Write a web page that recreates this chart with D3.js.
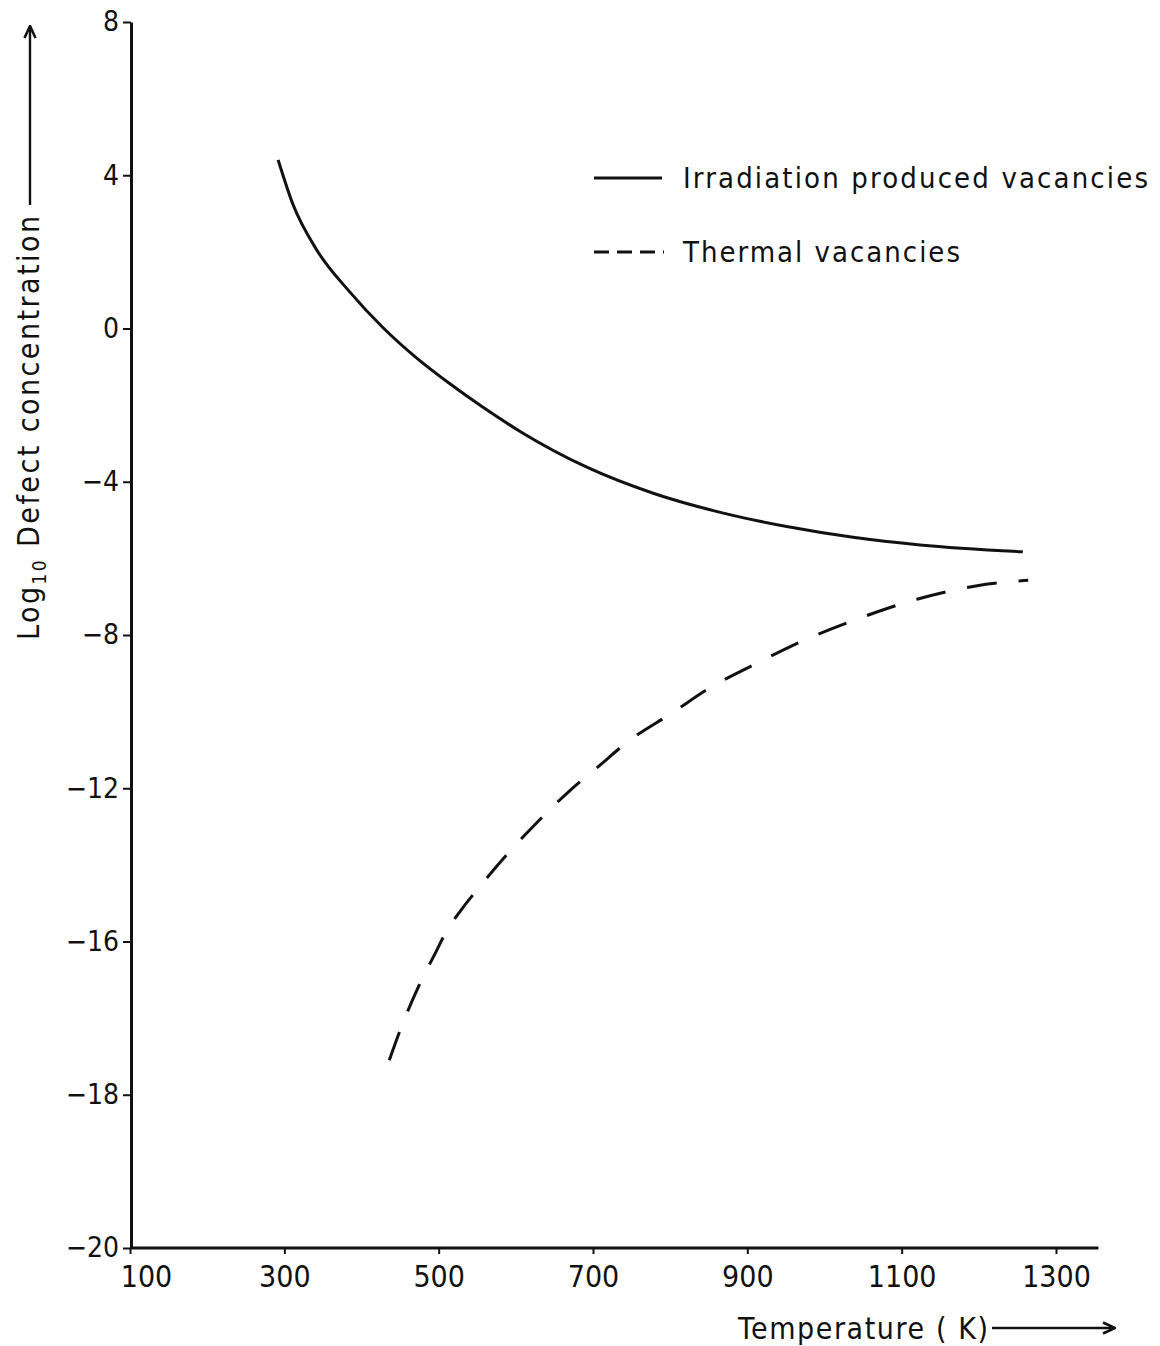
<!DOCTYPE html>
<html>
<head>
<meta charset="utf-8">
<script src="https://cdn.jsdelivr.net/npm/d3@7"></script>
<style>
  html, body { margin: 0; padding: 0; background: #fff; }
  svg text { font-family: "DejaVu Sans Condensed", "DejaVu Sans", sans-serif; font-stretch: condensed; fill: #111; }
</style>
</head>
<body>
<svg id="chart" width="1160" height="1346"></svg>
<script>
// ---- data ----
const xTickValues = [100, 300, 500, 700, 900, 1100, 1300];
const yTickValues = [8, 4, 0, -4, -8, -12, -16, -20, -24];
const yTickLabels = ["8", "4", "0", "\u22124", "\u22128", "\u221212", "\u221216", "\u221218", "\u221220"];

const irradiationT = [292, 311, 342, 385, 428, 472, 515, 557, 605, 692, 778, 865, 951, 1037, 1124, 1257];
const irradiationV = [4.40, 3.25, 2.05, 0.95, 0.02, -0.78, -1.45, -2.05, -2.68, -3.62, -4.30, -4.80, -5.17, -5.45, -5.65, -5.83];

const thermalT = [436, 450, 474, 497, 508, 529, 556, 589, 629, 669, 706, 744, 802, 853, 910, 971, 1043, 1121, 1196, 1264];
const thermalV = [-19.10, -18.32, -17.17, -16.25, -15.81, -15.18, -14.50, -13.72, -12.86, -12.08, -11.45, -10.80, -10.04, -9.36, -8.76, -8.16, -7.58, -7.06, -6.72, -6.57];

const legendLabels = ["Irradiation produced vacancies", "Thermal vacancies"];
const xAxisTitle = "Temperature ( K)";

// ---- layout ----
const svg = d3.select("#chart");
const ink = "#111";
const x = d3.scaleLinear().domain([100, 1300]).range([130, 1056]);
const y = d3.scaleLinear().domain([-24, 8]).range([1248, 22]);
const xAxisEnd = 1355;

// y axis
const yAxis = d3.axisLeft(y)
  .tickValues(yTickValues)
  .tickFormat((d, i) => yTickLabels[i])
  .tickSize(8).tickSizeOuter(0).tickPadding(4);
const gy = svg.append("g").attr("transform", "translate(131,0)").call(yAxis);
gy.select(".domain").attr("stroke", ink).attr("stroke-width", 3);
gy.selectAll(".tick line").attr("stroke", ink).attr("stroke-width", 2);
gy.selectAll(".tick text").attr("font-size", 28).attr("fill", ink);

// x axis
const xAxis = d3.axisBottom(x)
  .tickValues(xTickValues)
  .tickFormat(d3.format("d"))
  .tickSize(6).tickSizeOuter(0).tickPadding(12);
const gx = svg.append("g").attr("transform", "translate(0,1248)").call(xAxis);
gx.select(".domain").remove();
gx.append("line").attr("x1", x(100)).attr("x2", x(xAxisEnd))
  .attr("y1", 0).attr("y2", 0).attr("stroke", ink).attr("stroke-width", 3);
gx.selectAll(".tick line").attr("stroke", ink).attr("stroke-width", 2);
gx.selectAll(".tick text").attr("font-size", 30).attr("fill", ink);
gx.selectAll(".tick text").filter(d => d === 100).attr("dx", 16);

// curves
const line = d3.line().x(d => x(d[0])).y(d => y(d[1])).curve(d3.curveMonotoneX);
svg.append("path")
  .attr("d", line(d3.zip(irradiationT, irradiationV)))
  .attr("fill", "none").attr("stroke", ink).attr("stroke-width", 3);
svg.append("path")
  .attr("d", line(d3.zip(thermalT, thermalV)))
  .attr("fill", "none").attr("stroke", ink).attr("stroke-width", 3)
  .attr("stroke-dasharray", "30,22");

// legend
const lg = svg.append("g");
lg.append("line").attr("x1", 594).attr("x2", 662).attr("y1", 178).attr("y2", 178)
  .attr("stroke", ink).attr("stroke-width", 3);
lg.append("text").attr("x", 683).attr("y", 188).attr("font-size", 29)
  .attr("textLength", 465).attr("lengthAdjust", "spacing").text(legendLabels[0]);
lg.append("line").attr("x1", 594).attr("x2", 664).attr("y1", 252).attr("y2", 252)
  .attr("stroke", ink).attr("stroke-width", 3).attr("stroke-dasharray", "15,8");
lg.append("text").attr("x", 683).attr("y", 262).attr("font-size", 29)
  .attr("textLength", 277).attr("lengthAdjust", "spacing").text(legendLabels[1]);

// arrow markers
const defs = svg.append("defs");
defs.append("marker").attr("id", "arrow").attr("viewBox", "0 0 14 14")
  .attr("refX", 13).attr("refY", 7).attr("markerWidth", 14).attr("markerHeight", 14)
  .attr("markerUnits", "userSpaceOnUse").attr("orient", "auto")
  .append("path").attr("d", "M1,1.5 L13,7 L1,12.5").attr("fill", "none")
  .attr("stroke", ink).attr("stroke-width", 2.6);

// y title
const yt = svg.append("text").attr("transform", "translate(39,640) rotate(-90)")
  .attr("font-size", 30).attr("textLength", 424).attr("lengthAdjust", "spacing");
yt.append("tspan").text("Log");
yt.append("tspan").attr("font-size", 19).attr("dy", 7).text("10");
yt.append("tspan").attr("dy", -7).text(" Defect concentration");
svg.append("line").attr("x1", 30).attr("x2", 30).attr("y1", 205).attr("y2", 26)
  .attr("stroke", ink).attr("stroke-width", 2.4).attr("marker-end", "url(#arrow)");

// x title
svg.append("text").attr("x", 738).attr("y", 1339).attr("font-size", 30)
  .attr("textLength", 250).attr("lengthAdjust", "spacing").text(xAxisTitle);
svg.append("line").attr("x1", 992).attr("x2", 1115).attr("y1", 1328).attr("y2", 1328)
  .attr("stroke", ink).attr("stroke-width", 2.4).attr("marker-end", "url(#arrow)");
</script>
</body>
</html>
